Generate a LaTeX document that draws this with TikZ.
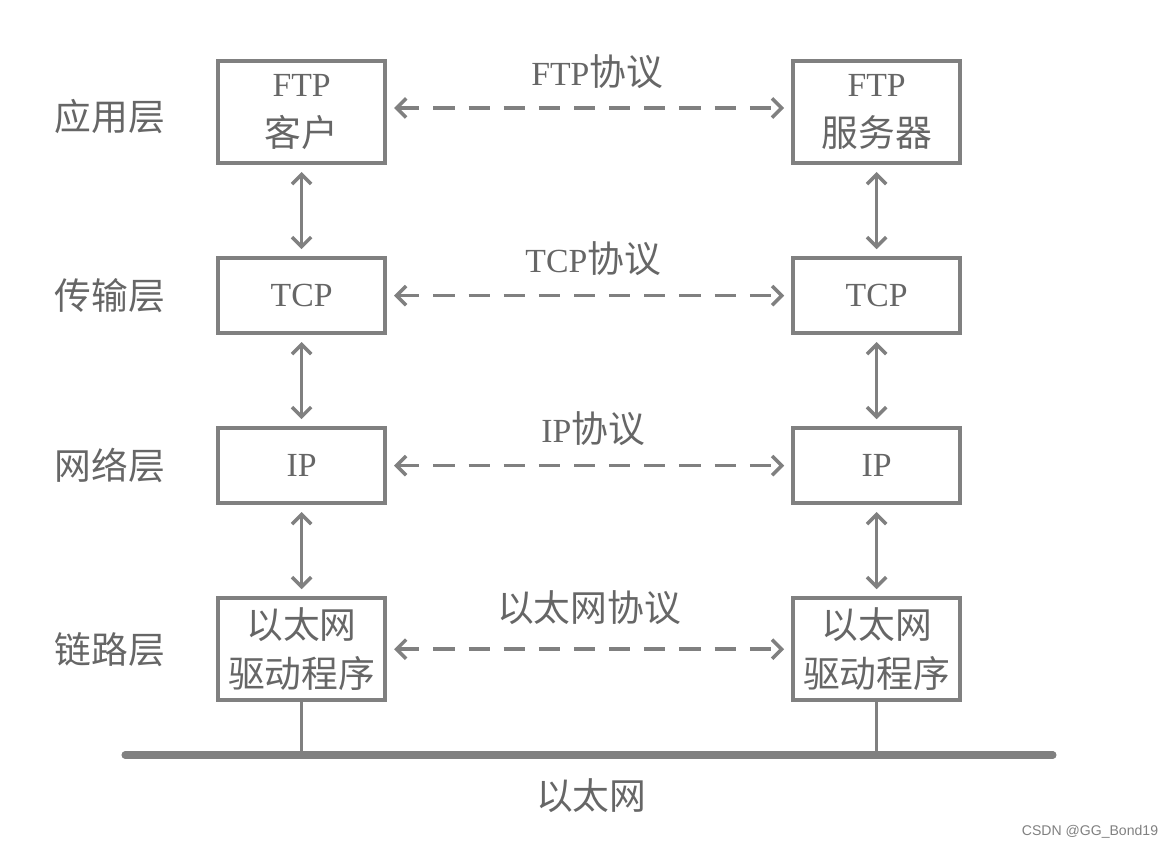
\documentclass[tikz,border=0pt]{standalone}
\usepackage{fontspec}
\setmainfont{Liberation Serif}
\newfontfamily\cjk[Scale=1.09]{Noto Sans CJK SC}
\newfontfamily\wmfont{Liberation Sans}
\usepackage{xcolor}
\usetikzlibrary{positioning, arrows.meta}
\definecolor{linegray}{HTML}{808080}
\definecolor{textgray}{HTML}{666666}
\newcommand{\zh}[1]{{\cjk #1}}

\tikzset{
    layerbox/.style={rectangle, draw=linegray, line width=2.5pt, minimum width=4.175cm,
        text=textgray, align=center, font=\fontsize{24}{35}\selectfont},
    tallbox/.style={layerbox, minimum height=2.55cm},
    flatbox/.style={layerbox, minimum height=1.875cm},
    layername/.style={text=textgray, font=\fontsize{24}{30}\selectfont},
    protolabel/.style={midway, text=textgray, font=\fontsize{24}{30}\selectfont},
    proto/.style={<->, draw=linegray, line width=2.5pt, dash pattern=on 15pt off 10pt,
        shorten <=0.18cm, shorten >=0.18cm},
    updown/.style={<->, draw=linegray, line width=2.5pt, shorten <=0.18cm, shorten >=0.18cm},
    bus/.style={draw=linegray, line width=5pt, line cap=round},
}

\begin{document}
\begin{tikzpicture}[node distance=14.375cm, >={Straight Barb[length=2.4mm, width=4.8mm]}]
    \useasboundingbox (0,0) rectangle (29.275,-21.225);

    % hosts, one column each
    \node[tallbox] (ftpc) at (7.54,-2.8) {FTP\\\zh{客户}};
    \node[tallbox, right of=ftpc] (ftps) {FTP\\\zh{服务器}};
    \node[flatbox] (tcpc) at (7.54,-7.39) {TCP};
    \node[flatbox, right of=tcpc] (tcps) {TCP};
    \node[flatbox] (ipc) at (7.54,-11.64) {IP};
    \node[flatbox, right of=ipc] (ips) {IP};
    \node[tallbox] (ethc) at (7.54,-16.23) {\zh{以太网}\\\zh{驱动程序}};
    \node[tallbox, right of=ethc] (eths) {\zh{以太网}\\\zh{驱动程序}};

    % layer names
    \node[layername, left of=ftpc, node distance=4.79cm, yshift=-0.12cm] (app) {\zh{应用层}};
    \node[layername, left of=tcpc, node distance=4.79cm] (trans) {\zh{传输层}};
    \node[layername, left of=ipc, node distance=4.79cm] (net) {\zh{网络层}};
    \node[layername, left of=ethc, node distance=4.79cm] (link) {\zh{链路层}};

    % peer protocols
    \draw[proto] ([yshift=0.1cm]ftpc.east) -- node[protolabel, yshift=0.9cm, xshift=0.2cm] (ftpproto) {FTP\zh{协议}} ([yshift=0.1cm]ftps.west);
    \draw[proto] (tcpc) -- node[protolabel, yshift=0.92cm, xshift=0.1cm] (tcpproto) {TCP\zh{协议}} (tcps);
    \draw[proto] (ipc) -- node[protolabel, yshift=0.92cm, xshift=0.1cm] (ipproto) {IP\zh{协议}} (ips);
    \draw[proto] (ethc) -- node[protolabel, yshift=1.05cm] (ethproto) {\zh{以太网协议}} (eths);

    % up and down the stack
    \draw[updown] (ftpc) -- (tcpc);
    \draw[updown] (tcpc) -- (ipc);
    \draw[updown] (ipc) -- (ethc);
    \draw[updown] (ftps) -- (tcps);
    \draw[updown] (tcps) -- (ips);
    \draw[updown] (ips) -- (eths);

    % the cable
    \coordinate (busL) at (3.125,-18.875);
    \coordinate (busR) at (26.325,-18.875);
    \draw[bus] (busL) -- (busR);
    \draw[draw=linegray, line width=2.5pt] (ethc.south) -- (ethc.south |- busL);
    \draw[draw=linegray, line width=2.5pt] (eths.south) -- (eths.south |- busL);
    \node[layername] (ether) at (14.78,-19.88) {\zh{以太网}};

    \node[text=gray, font=\wmfont\fontsize{10}{12}\selectfont] (mark) at (27.25,-20.8) {CSDN @GG\_Bond19};
\end{tikzpicture}
\end{document}
